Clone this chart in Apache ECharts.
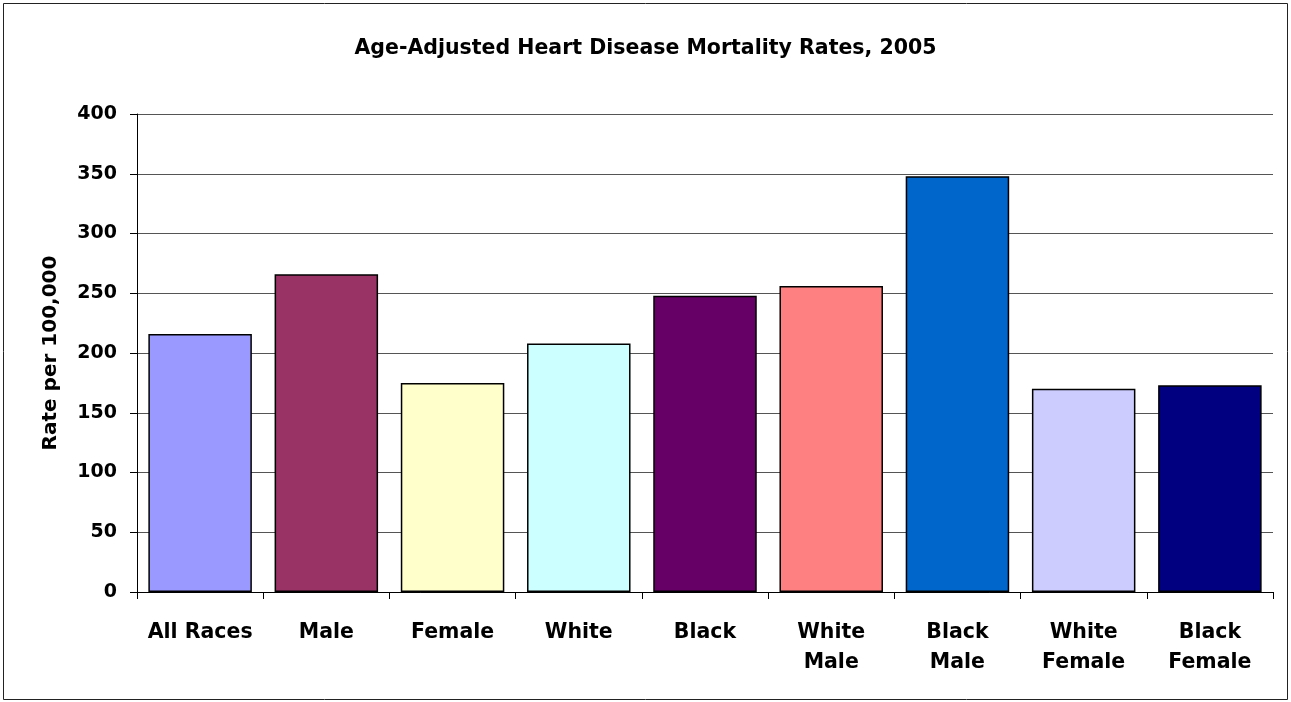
<!DOCTYPE html>
<html>
<head>
<meta charset="utf-8">
<script src="https://cdn.jsdelivr.net/npm/echarts@6/dist/echarts.min.js"></script>
<style>
html,body{margin:0;padding:0;background:#fff;}
#chart{width:1291px;height:702px;}
</style>
</head>
<body>
<div id="chart"></div>
<script>
const categories = ['All Races', 'Male', 'Female', 'White', 'Black', 'White\nMale', 'Black\nMale', 'White\nFemale', 'Black\nFemale'];
const rates = [216, 266, 175, 208, 248, 256, 348, 170, 173];
const barColors = ['#9999FF', '#993366', '#FFFFCC', '#CCFFFF', '#660066', '#FF8080', '#0066CC', '#CCCCFF', '#000080'];
const yTicks = { min: 0, max: 400, interval: 50 };

const font = 'DejaVu Sans';
const chart = echarts.init(document.getElementById('chart'));
chart.setOption({
  animation: false,
  backgroundColor: '#fff',
  graphic: [{
    type: 'rect',
    shape: { x: 3.5, y: 3.5, width: 1284, height: 696 },
    style: { fill: 'none', stroke: '#222', lineWidth: 1 },
    silent: true
  }],
  title: {
    text: 'Age-Adjusted Heart Disease Mortality Rates, 2005',
    left: 'center',
    top: 33,
    textStyle: { fontFamily: font, fontWeight: 'bold', fontSize: 20.5, color: '#000' }
  },
  grid: { left: 137, right: 18, top: 114, bottom: 110, containLabel: false },
  xAxis: {
    type: 'category',
    data: categories,
    axisLine: { lineStyle: { color: '#000', width: 1 } },
    axisTick: { show: true, length: 7, alignWithLabel: false, lineStyle: { color: '#000' } },
    axisLabel: {
      interval: 0, margin: 26, color: '#000',
      fontFamily: font, fontWeight: 'bold', fontSize: 20.5, lineHeight: 30
    }
  },
  yAxis: {
    type: 'value',
    min: yTicks.min, max: yTicks.max, interval: yTicks.interval,
    name: 'Rate per 100,000',
    nameLocation: 'middle',
    nameGap: 76,
    nameRotate: 90,
    nameTextStyle: { fontFamily: font, fontWeight: 'bold', fontSize: 20, color: '#000' },
    axisLine: { show: true, lineStyle: { color: '#000', width: 1 } },
    axisTick: { show: true, length: 7, lineStyle: { color: '#000' } },
    axisLabel: { margin: 20, color: '#000', fontFamily: font, fontWeight: 'bold', fontSize: 19 },
    splitLine: { show: true, lineStyle: { color: '#555', width: 1 } }
  },
  series: [{
    type: 'bar',
    data: rates.map((v, i) => ({ value: v, itemStyle: { color: barColors[i] } })),
    barCategoryGap: '18%',
    itemStyle: { borderColor: '#000', borderWidth: 1.5 }
  }]
});
</script>
</body>
</html>
